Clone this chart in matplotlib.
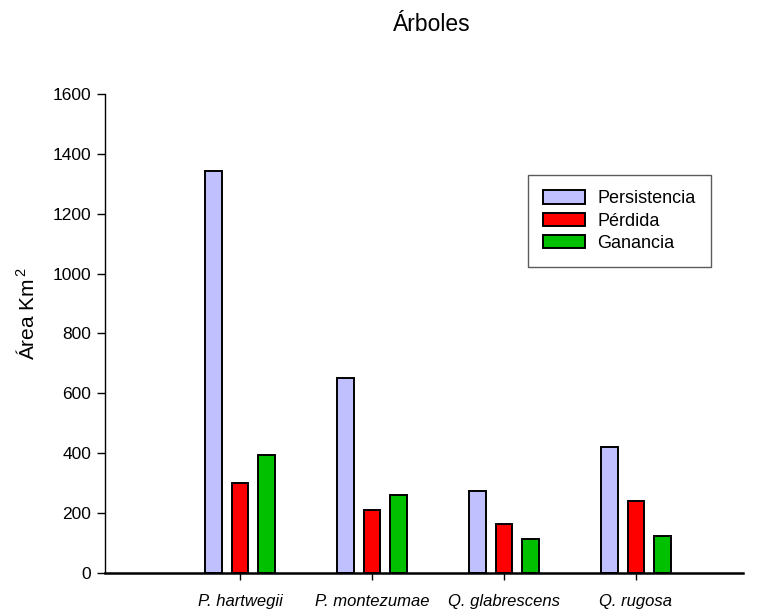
import numpy as np
import matplotlib
matplotlib.use("Agg")
import matplotlib.pyplot as plt

plt.rcParams['font.family'] = ['Liberation Sans', 'DejaVu Sans']
plt.rcParams['mathtext.fontset'] = 'custom'
plt.rcParams['mathtext.rm'] = 'Liberation Sans'
plt.rcParams['mathtext.it'] = 'Liberation Sans:italic'

# Datos
especies = ['P. hartwegii', 'P. montezumae', 'Q. glabrescens', 'Q. rugosa']
persistencia = [1344, 652, 275, 421]
perdida = [300, 209, 164, 239]
ganancia = [393, 260, 115, 125]

series = ['Persistencia', 'Pérdida', 'Ganancia']
colores = ['#C0C0FF', '#FF0000', '#00C000']

fig = plt.figure(figsize=(7.58, 6.14), dpi=100)
ax = fig.add_axes([0.1385, 0.0668, 0.8415, 0.7801])

x = np.arange(1, len(especies) + 1)
ancho = 0.125
desp = [-0.2, 0.0, 0.2]
for valores, nombre, color, d in zip([persistencia, perdida, ganancia], series, colores, desp):
    ax.bar(x + d, valores, width=ancho, color=color, edgecolor='black',
           linewidth=1.4, label=nombre)

ax.set_xlim(1 - 135 / 132, 1 + 503 / 132)
ax.set_ylim(0, 1600)
ax.set_yticks(np.arange(0, 1601, 200))
ax.set_xticks(x)
ax.set_xticklabels(especies, fontstyle='italic', fontsize=12)
ax.tick_params(axis='y', labelsize=12.5, length=6, width=1, direction='out', pad=4)
ax.tick_params(axis='x', length=5, width=1, direction='out', pad=10)

ax.spines['top'].set_visible(False)
ax.spines['right'].set_visible(False)
ax.spines['left'].set_linewidth(1)
ax.spines['bottom'].set_linewidth(1.8)

fig.text(0.036, 0.49, 'Área Km$^{\\,2}$', rotation=90, ha='center', va='center', fontsize=15)
fig.text(0.569, 0.96, 'Árboles', ha='center', va='center', fontsize=16.5)

leg = ax.legend(loc='upper left', bbox_to_anchor=(0.663, 0.831), fontsize=13,
                frameon=True, fancybox=False, handlelength=2.3, handleheight=0.75,
                borderpad=0.85, labelspacing=0.3, handletextpad=0.7, borderaxespad=0)
leg.get_frame().set_edgecolor('#333333')
leg.get_frame().set_linewidth(1)

fig.savefig('out.png', dpi=100)
